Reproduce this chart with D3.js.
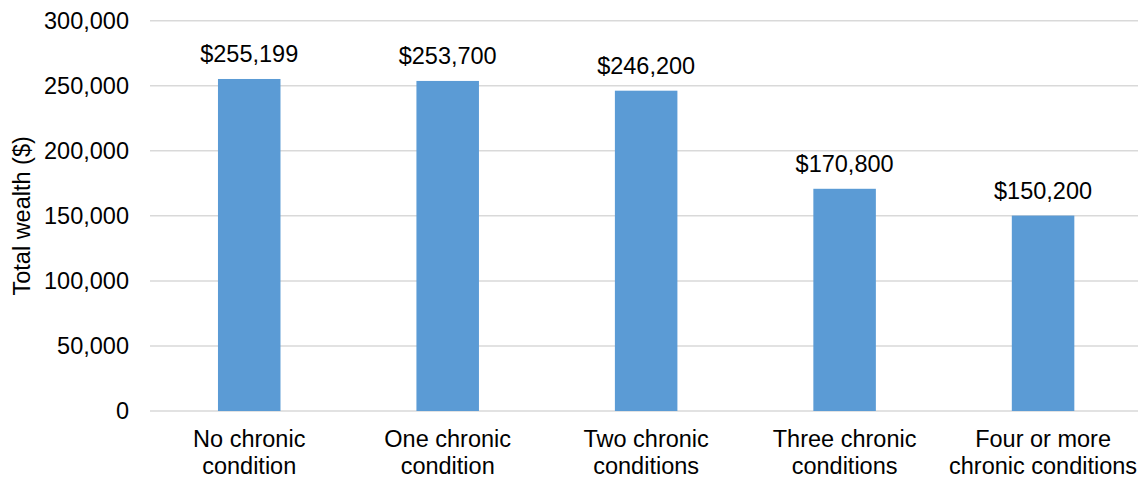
<!DOCTYPE html>
<html><head><meta charset="utf-8">
<script src="https://cdn.jsdelivr.net/npm/d3@7"></script>
<style>body{margin:0;background:#fff}svg{display:block}</style>
</head><body>
<svg id="c" width="1138" height="479"></svg>
<script>
const categories = [["No chronic","condition"],["One chronic","condition"],["Two chronic","conditions"],["Three chronic","conditions"],["Four or more","chronic conditions"]];
const values = [255199, 253700, 246200, 170800, 150200];
const valueLabels = ["$255,199","$253,700","$246,200","$170,800","$150,200"];
const yTicks = [0, 50000, 100000, 150000, 200000, 250000, 300000];
const yTitle = "Total wealth ($)";

(function(){
const svg = d3.select("#c");
const font = "'Liberation Sans', Arial, sans-serif";
const fs = 23.5;
const pl = 150, pr = 1142.3, pt = 20.7, pb = 411;
const ids = categories.map((d,i)=>i);
const x = d3.scaleBand().domain(ids).range([pl, pr]).padding(0);
const y = d3.scaleLinear().domain([0, 300000]).range([pb, pt]);
const barFrac = 0.315;
const bw = x.bandwidth()*barFrac;

svg.append("g").selectAll("line").data(yTicks).join("line")
  .attr("x1", pl).attr("x2", 1138)
  .attr("y1", d=>y(d)).attr("y2", d=>y(d))
  .attr("stroke", "#D9D9D9").attr("stroke-width", 1.5);

const fmt = d3.format(",");
svg.append("g").selectAll("text").data(yTicks).join("text")
  .attr("x", 129).attr("y", d=>y(d)).attr("dy", "0.35em")
  .attr("text-anchor", "end").attr("font-family", font).attr("font-size", fs)
  .attr("fill", "#000").text(d=>fmt(d));

svg.append("text")
  .attr("transform", `translate(30,${(pt+pb)/2}) rotate(-90)`)
  .attr("text-anchor", "middle").attr("font-family", font).attr("font-size", fs)
  .attr("fill", "#000").text(yTitle);

svg.append("g").selectAll("rect").data(values).join("rect")
  .attr("x", (d,i)=>x(i) + (x.bandwidth()-bw)/2)
  .attr("width", bw)
  .attr("y", d=>y(d))
  .attr("height", d=>pb - y(d))
  .attr("fill", "#5B9BD5");

svg.append("g").selectAll("text").data(values).join("text")
  .attr("x", (d,i)=>x(i) + x.bandwidth()/2)
  .attr("y", d=>y(d) - 16.5)
  .attr("text-anchor", "middle").attr("font-family", font).attr("font-size", fs)
  .attr("fill", "#000").text((d,i)=>valueLabels[i]);

const cg = svg.append("g").selectAll("text").data(categories).join("text")
  .attr("text-anchor", "middle").attr("font-family", font).attr("font-size", fs)
  .attr("fill", "#000");
cg.selectAll("tspan").data((d,i)=>d.map(t=>({t,i}))).join("tspan")
  .attr("x", d=>x(d.i) + x.bandwidth()/2)
  .attr("y", (d,j)=>447 + j*26.5)
  .text(d=>d.t);
})();
</script>
</body></html>
